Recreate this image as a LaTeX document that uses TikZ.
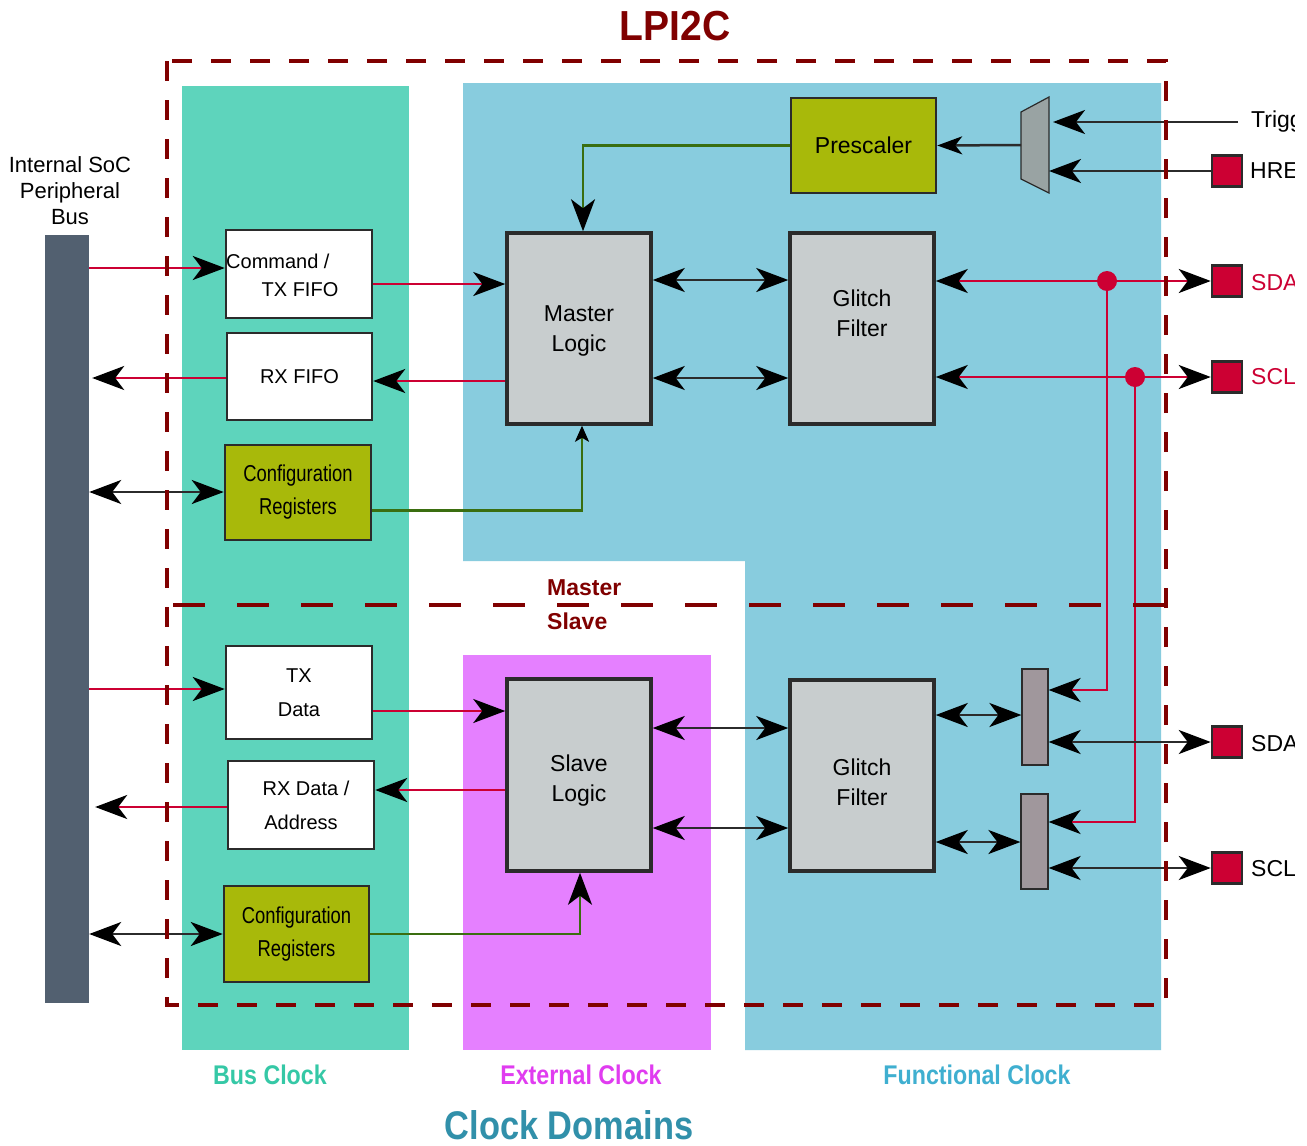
\documentclass[tikz,border=0pt]{standalone}
\usepackage{graphicx}
\usepackage{fontspec}
\setmainfont{Liberation Sans}
\usetikzlibrary{arrows.meta,calc}
\definecolor{busteal}{HTML}{5ED4BC}
\definecolor{funcblue}{HTML}{88CCDE}
\definecolor{extmag}{HTML}{E580FF}
\definecolor{olivebox}{HTML}{A8B90A}
\definecolor{boxgray}{HTML}{C8CDCE}
\definecolor{muxgrayA}{HTML}{99A3A3}
\definecolor{muxgrayB}{HTML}{A0979C}
\definecolor{darkred}{HTML}{800000}
\definecolor{linered}{HTML}{CC0033}
\definecolor{grn}{HTML}{3A6E10}
\definecolor{busbar}{HTML}{526070}
\definecolor{edgegray}{HTML}{2B2B2B}
\definecolor{busclk}{HTML}{35C8A6}
\definecolor{extclk}{HTML}{E03CF0}
\definecolor{funclk}{HTML}{3FAFD0}
\definecolor{domclk}{HTML}{3190AA}
\newcommand\myfs[2]{\fontsize{#1}{#2}\selectfont}
\newcommand\cnd[1]{\scalebox{0.8}[1]{#1}}
\newcommand\bcnd[1]{\scalebox{0.86}[1]{#1}}
\tikzset{
  BigT/.tip={Stealth[length=32pt,width=24pt,inset=9pt,color=black]},
  MidT/.tip={Stealth[length=25pt,width=18pt,inset=7pt,color=black]},
  SmT/.tip={Stealth[length=16pt,width=14pt,inset=4pt,color=black]},
  fifo/.style={draw=edgegray, line width=2.5pt, fill=white, inner sep=0pt, minimum width=146pt, align=center, font=\myfs{20}{34}},
  cfgbox/.style={draw=edgegray, line width=2.5pt, fill=olivebox, inner sep=0pt, minimum width=146pt, minimum height=95pt, align=center, font=\myfs{23}{33}},
  logic/.style={draw=edgegray, line width=3.5pt, fill=boxgray, inner sep=0pt, minimum width=144pt, minimum height=191pt},
  boxtext/.style={inner sep=0pt, align=center, font=\myfs{23}{30}},
  pad/.style={draw=edgegray, line width=2.5pt, fill=linered, inner sep=0pt, minimum width=30pt, minimum height=31pt},
  muxbar/.style={draw=edgegray, line width=1.2pt, fill=muxgrayB, inner sep=0pt, minimum width=26pt, minimum height=96pt},
  redl/.style={draw=linered, line width=2.5pt},
  blkl/.style={draw=edgegray, line width=2.5pt},
  grnl/.style={draw=grn, line width=2.5pt},
  lbl/.style={inner sep=0pt, font=\myfs{23}{28}},
  clk/.style={inner sep=0pt, font=\bfseries\myfs{27}{30}},
  frame/.style={draw=darkred, line width=4pt, dash pattern=on 20pt off 19pt},
  midframe/.style={draw=darkred, line width=4pt, dash pattern=on 32pt off 32pt}
}
\begin{document}
\begin{tikzpicture}[x=1pt,y=-1pt]
\useasboundingbox[fill=white] (0,0) rectangle (1307,1146);
\begin{scope}
\clip (0,0) rectangle (1294,1146);
% clock domain backgrounds
\fill[busteal] (182,86) rectangle (409,1050);
\fill[funcblue] (463,83) -- (1161,83) -- (1161,1050) -- (745,1050) -- (745,561) -- (463,561) -- cycle;
\fill[extmag] (463,655) rectangle (711,1050);

% title
\node[inner sep=0pt, font=\bfseries\myfs{42}{44}, text=darkred] (title) at (675,26) {\scalebox{0.93}[1]{LPI2C}};

% bus
\node[fill=busbar, inner sep=0pt, minimum width=44pt, minimum height=768pt] (bus) at (67,619) {};
\node[inner sep=0pt, align=center, font=\myfs{22}{26}] (buslbl) at (70,191) {Internal SoC\\Peripheral\\Bus};

% master side boxes
\node[fifo, minimum height=88pt] (cmd) at (299,274) {};
\node[inner sep=0pt, anchor=west, font=\myfs{20}{24}] (cmdl1) at (226,261) {Command /};
\node[inner sep=0pt, font=\myfs{20}{24}] (cmdl2) at (300,290) {TX FIFO};
\node[fifo, minimum width=145pt, minimum height=87pt] (rxf) at (299.5,376.5) {RX FIFO};
\node[cfgbox] (cfg1) at (298,492.5) {\cnd{Configuration}\\\cnd{Registers}};
\node[logic] (ml) at (579,328.5) {};
\node[boxtext] (mlt) at ([yshift=-2pt]ml.center) {Master\\Logic};
\node[logic] (gf1) at (862,328.5) {};
\node[boxtext] (gf1t) at ([yshift=15pt]gf1.center) {Glitch\\Filter};
\node[cfgbox, minimum width=145pt] (pre) at (863.5,145.5) {Prescaler};

% top mux
\draw[draw=edgegray, line width=1.2pt, fill=muxgrayA] (1021,112) -- (1049,97) -- (1049,193) -- (1021,179) -- cycle;
\coordinate (muxo) at (1021,145);
\coordinate (muxi1) at (1049,122);
\coordinate (muxi2) at (1049,171);
\coordinate (trig) at (1238,122);

% pads
\node[pad] (hrefpad) at (1227,171) {};
\node[pad] (sdapad1) at (1227,281) {};
\node[pad] (sclpad1) at (1227,377) {};
\node[pad] (sdapad2) at (1227,742) {};
\node[pad] (sclpad2) at (1227,868) {};
\node[lbl, anchor=west] (trigl) at (1251,122) {Trigger};
\node[lbl, anchor=west] (hrefl) at (1250,171) {HREF};
\node[lbl, anchor=west, text=linered] (sdal1) at (1251,283) {SDA};
\node[lbl, anchor=west, text=linered] (scll1) at (1251,377) {SCL};
\node[lbl, anchor=west] (sdal2) at (1251,744) {SDA};
\node[lbl, anchor=west] (scll2) at (1251,869) {SCL};

% slave side boxes
\node[fifo, minimum height=93pt] (tx) at (299,692.5) {TX\\Data};
\node[fifo, minimum height=88pt] (rxd) at (301,805) {\hspace*{10pt}RX Data /\\Address};
\node[cfgbox, minimum width=145pt, minimum height=96pt] (cfg2) at (296.5,934) {\cnd{Configuration}\\\cnd{Registers}};
\node[logic, minimum height=192pt] (sl) at (579,775) {};
\node[boxtext] (slt) at ([yshift=-6pt]sl.center) {Slave\\Logic};
\node[logic] (gf2) at (862,775.5) {};
\node[boxtext] (gf2t) at ([yshift=-7pt]gf2.center) {Glitch\\Filter};
\node[muxbar] (m1) at (1035,717) {};
\node[muxbar, minimum width=27pt, minimum height=95pt] (m2) at (1034.5,841.5) {};

% master connectors
\draw[redl, -BigT] (bus.east |- 0,268) -- (cmd.west |- 0,268);
\draw[redl, -BigT] (cmd.east |- 0,284) -- (ml.west |- 0,284);
\draw[redl, -BigT] (ml.west |- 0,381) -- (rxf.east |- 0,381);
\draw[redl, -BigT, shorten >=3pt] (rxf.west |- 0,378) -- (bus.east |- 0,378);
\draw[blkl, BigT-BigT] (bus.east |- 0,492) -- (cfg1.west |- 0,492);
\draw[grnl, -SmT] ([yshift=-18pt]cfg1.east) -| ([xshift=3pt]ml.south);
\draw[grnl, -BigT] (pre.west) -| ([xshift=4pt]ml.north);
\draw[blkl, BigT-BigT] (ml.east |- 0,280) -- (gf1.west |- 0,280);
\draw[blkl, BigT-BigT] (ml.east |- 0,378) -- (gf1.west |- 0,378);
\draw[blkl, -MidT] (muxo) -- (pre.east);
\draw[blkl, -BigT] (trig) -- ([xshift=4pt]muxi1);
\draw[blkl, -BigT] (hrefpad.west) -- (muxi2);
\draw[redl, BigT-BigT] (gf1.east |- 0,281) -- (sdapad1.west);
\draw[redl, BigT-BigT] (gf1.east |- 0,377) -- (sclpad1.west);
\coordinate (j1) at (1107,281);
\coordinate (j2) at (1135,377);
\draw[redl, -BigT] (j1) |- (m1.east |- 0,690);
\draw[redl, -BigT] (j2) |- (m2.east |- 0,822);
\fill[linered] (j1) circle (10pt);
\fill[linered] (j2) circle (10pt);

% slave connectors
\draw[redl, -BigT] (bus.east |- 0,689) -- (tx.west |- 0,689);
\draw[redl, -BigT] (tx.east |- 0,711) -- (sl.west |- 0,711);
\draw[redl, -BigT] (sl.west |- 0,790) -- (rxd.east |- 0,790);
\draw[redl, -BigT, shorten >=6pt] (rxd.west |- 0,807) -- (bus.east |- 0,807);
\draw[blkl, BigT-BigT] (bus.east |- 0,934) -- (cfg2.west |- 0,934);
\draw[grnl, -BigT] (cfg2.east) -| ([xshift=1pt]sl.south);
\draw[blkl, BigT-BigT] (sl.east |- 0,728) -- (gf2.west |- 0,728);
\draw[blkl, BigT-BigT] (sl.east |- 0,828) -- (gf2.west |- 0,828);
\draw[blkl, BigT-BigT] (gf2.east |- 0,715) -- (m1.west |- 0,715);
\draw[blkl, BigT-BigT] (gf2.east |- 0,842) -- (m2.west |- 0,842);
\draw[blkl, BigT-BigT] (m1.east |- 0,742) -- (sdapad2.west);
\draw[blkl, BigT-BigT] (m2.east |- 0,868) -- (sclpad2.west);

% LPI2C frame and master/slave divider
\draw[frame] (167,61) rectangle (1166,1005);
\draw[midframe] (173,605) -- (1168,605);
\node[inner sep=0pt, anchor=west, font=\bfseries\myfs{23}{26}, text=darkred] (mlbl) at (547,588) {Master};
\node[inner sep=0pt, anchor=west, font=\bfseries\myfs{23}{26}, text=darkred] (slbl) at (547,621) {Slave};

% clock domain labels
\node[clk, text=busclk] (bclk) at (270,1075) {\bcnd{Bus Clock}};
\node[clk, text=extclk] (eclk) at (581,1075) {\bcnd{External Clock}};
\node[clk, text=funclk] (fclk) at (977,1075) {\bcnd{Functional Clock}};
\node[inner sep=0pt, font=\bfseries\myfs{40}{42}, text=domclk] (dom) at (569,1125) {\bcnd{Clock Domains}};
\end{scope}
\end{tikzpicture}
\end{document}
